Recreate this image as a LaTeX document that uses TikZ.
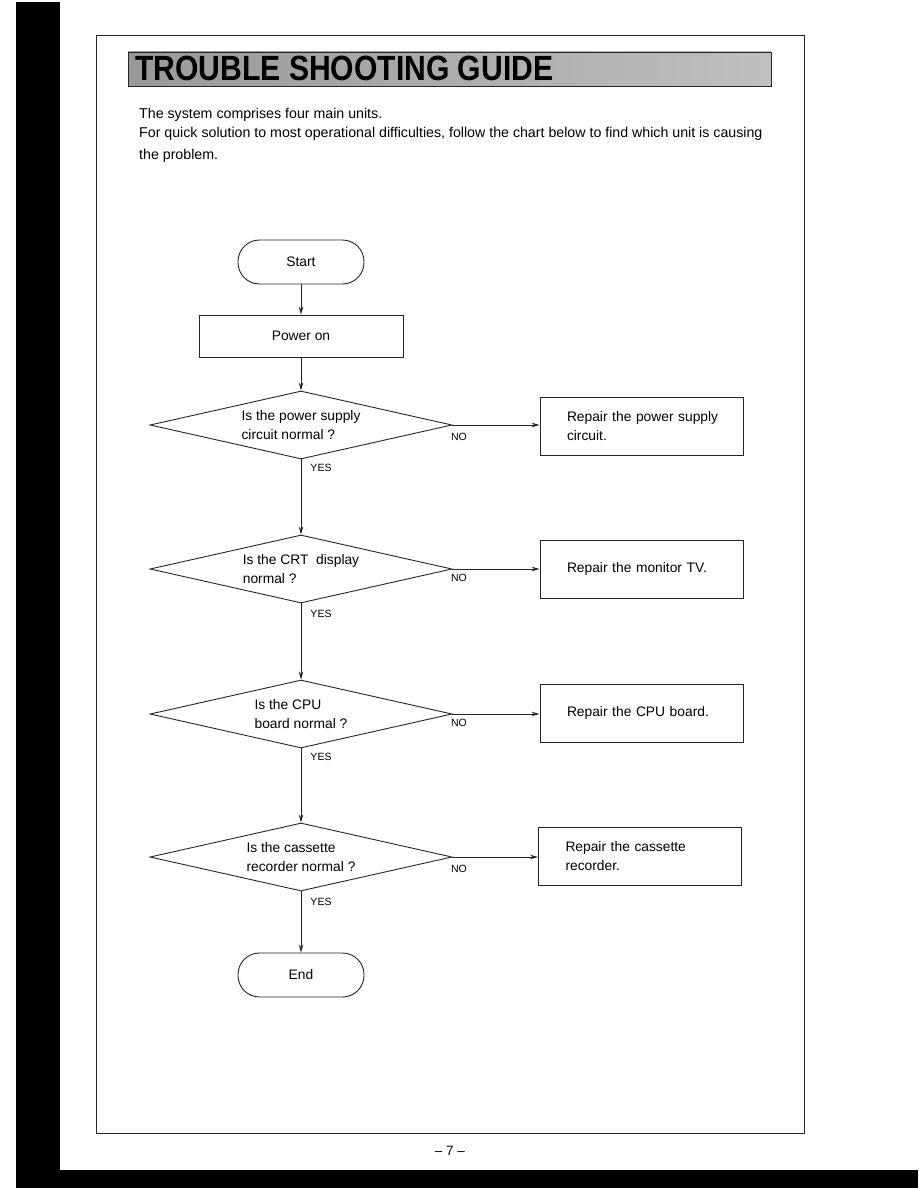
\documentclass[tikz,border=0pt]{standalone}
\usepackage{fontspec}
\setmainfont{Liberation Sans}
\usetikzlibrary{shapes.geometric,arrows.meta}
\begin{document}
\begin{tikzpicture}[x=1pt,y=-1pt,
  line/.style={draw=black!85, line width=0.9pt},
  arr/.style={line, -{Stealth[length=8pt,width=4.5pt]}},
  txt/.style={font=\fontsize{13.8}{19}\selectfont},
  term/.style={line, txt, rectangle, rounded corners=21.5pt, minimum width=126pt, minimum height=44pt},
  proc/.style={line, txt, rectangle, minimum width=204pt, minimum height=42pt},
  repair/.style={line, txt, rectangle, minimum width=203pt, minimum height=58pt, inner xsep=0pt, text width=149pt, align=left},
  decision/.style={line, txt, diamond, aspect=4.4, minimum width=302pt, minimum height=68pt, inner sep=0pt, align=left},
  lbl/.style={font=\fontsize{10.5}{12}\selectfont, inner sep=0pt},
  body/.style={font=\fontsize{14.2}{17}\selectfont, inner sep=0pt, anchor=base west}
]
\useasboundingbox (0,0) rectangle (918,1188);
\fill[white] (0,0) rectangle (918,1188);
% scan edges
\fill[black] (16,2) rectangle (60,1188);
\fill[black] (16,1170) rectangle (918,1188);
% page frame
\draw[line] (96,35) rectangle (804,1133);
% title bar
\shade[left color=gray!80, right color=gray!50, draw=black!85, line width=0.8pt] (128,52) rectangle (771,86);
\node[anchor=base west, inner sep=0pt] (title) at (135,81)
  {\scalebox{0.86}[1]{\fontsize{35}{35}\selectfont\bfseries TROUBLE SHOOTING GUIDE}};
% intro text
\node[body] (l1) at (139,118) {The system comprises four main units.};
\node[body] (l2) at (139,137) {For quick solution to most operational difficulties, follow the chart below to find which unit is causing};
\node[body] (l3) at (139,159) {the problem.};
% flowchart
\node[term] (start) at (301,262) {Start};
\node[proc] (power) at (301,336) {Power on};
\node[decision] (d1) at (301,425) {Is the power supply\\circuit normal ?};
\node[repair] (r1) at (641.5,426) {\mbox{Repair the power supply}\\circuit.};
\node[decision] (d2) at (301,569) {Is the CRT\ \ display\\normal ?};
\node[repair] (r2) at (641.5,569) {\mbox{Repair the monitor TV.}};
\node[decision] (d3) at (301,714) {Is the CPU\\board normal ?};
\node[repair] (r3) at (641.5,713) {\mbox{Repair the CPU board.}};
\node[decision] (d4) at (301,857) {Is the cassette\\recorder normal ?};
\node[repair] (r4) at (640,856) {\mbox{Repair the cassette}\\recorder.};
\node[term] (end) at (301,975) {End};
% connectors
\draw[arr] (start) -- (power);
\draw[arr] (power) -- (d1);
\draw[arr] (d1.south) -- (d2.north);
\draw[arr] (d2.south) -- (d3.north);
\draw[arr] (d3.south) -- (d4.north);
\draw[arr] (d4.south) -- (end);
\draw[arr] (d1.east) -- (d1.east -| r1.west);
\draw[arr] (d2.east) -- (d2.east -| r2.west);
\draw[arr] (d3.east) -- (d3.east -| r3.west);
\draw[arr] (d4.east) -- (d4.east -| r4.west);
% labels
\node[lbl] (no1) at (459,437) {NO};
\node[lbl] (no2) at (459,578) {NO};
\node[lbl] (no3) at (459,723) {NO};
\node[lbl] (no4) at (459,869) {NO};
\node[lbl] (yes1) at (321,468) {YES};
\node[lbl] (yes2) at (321,614) {YES};
\node[lbl] (yes3) at (321,757) {YES};
\node[lbl] (yes4) at (321,902) {YES};
% page number
\node[font=\fontsize{13.5}{15}\selectfont, inner sep=0pt] (page) at (450,1151) {– 7 –};
\end{tikzpicture}
\end{document}
